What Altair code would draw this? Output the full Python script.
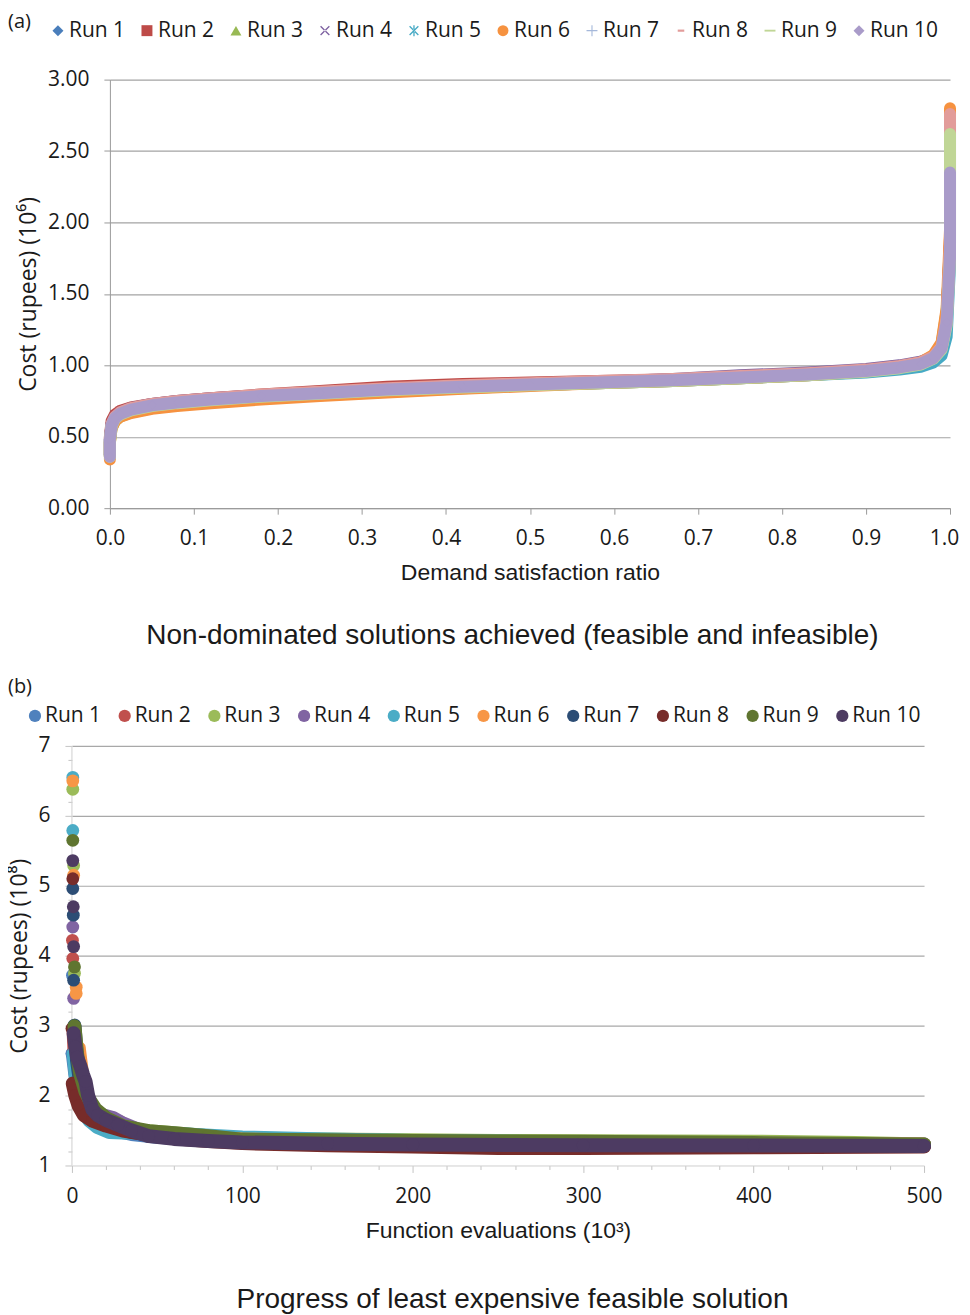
import altair as alt
import pandas as pd

RUNS = ["Run 1", "Run 2", "Run 3", "Run 4", "Run 5", "Run 6", "Run 7", "Run 8", "Run 9", "Run 10"]

# ---------------- panel (a): non-dominated fronts ----------------
A_COLORS = ["#4A7EBB", "#BE4B48", "#98B954", "#7D60A0", "#46AAC5",
            "#F69240", "#A5B8DA", "#E29C9A", "#C0D696", "#A99BC9"]
X_PATH = "M-0.885,-0.715L0.715,0.885L0.885,0.715L-0.715,-0.885Z M0.885,-0.715L-0.715,0.885L-0.885,0.715L0.715,-0.885Z"
A_SHAPES = ["diamond", "square", "triangle-up", X_PATH,
            X_PATH + " M-0.12,-1L0.12,-1L0.12,1L-0.12,1Z",
            "circle", "M-0.1,-1L0.1,-1L0.1,1L-0.1,1Z M-1,-0.1L1,-0.1L1,0.1L-1,0.1Z",
            "M-0.6,-0.2L0.6,-0.2L0.6,0.2L-0.6,0.2Z",
            "M-1,-0.17L1,-0.17L1,0.17L-1,0.17Z", "diamond"]

A_X = [0.0, 0.0, 0.002, 0.006, 0.012, 0.025, 0.05, 0.08, 0.12, 0.18, 0.25, 0.33, 0.42,
       0.5, 0.58, 0.67, 0.75, 0.83, 0.9, 0.94, 0.965, 0.98, 0.99, 0.996, 1.0, 1.0]
A_Y = [
    [0.37, 0.48, 0.59, 0.64, 0.67, 0.70, 0.725, 0.745, 0.765, 0.79, 0.81, 0.835, 0.855, 0.87, 0.885, 0.90, 0.92, 0.94, 0.965, 0.99, 1.02, 1.06, 1.14, 1.34, 1.85, 2.72],
    [0.37, 0.50, 0.61, 0.655, 0.68, 0.705, 0.73, 0.75, 0.77, 0.795, 0.82, 0.85, 0.87, 0.88, 0.89, 0.90, 0.915, 0.935, 0.96, 0.985, 1.01, 1.05, 1.12, 1.32, 1.90, 2.78],
    [0.36, 0.46, 0.56, 0.61, 0.64, 0.67, 0.70, 0.72, 0.745, 0.77, 0.79, 0.815, 0.84, 0.86, 0.875, 0.89, 0.91, 0.93, 0.955, 0.98, 1.01, 1.06, 1.15, 1.38, 1.80, 2.58],
    [0.37, 0.49, 0.59, 0.64, 0.67, 0.70, 0.73, 0.75, 0.77, 0.79, 0.81, 0.835, 0.855, 0.87, 0.885, 0.905, 0.93, 0.95, 0.975, 1.00, 1.025, 1.06, 1.13, 1.32, 1.85, 2.70],
    [0.37, 0.48, 0.57, 0.62, 0.655, 0.685, 0.715, 0.735, 0.755, 0.78, 0.80, 0.825, 0.845, 0.86, 0.875, 0.89, 0.91, 0.93, 0.95, 0.97, 0.99, 1.02, 1.07, 1.20, 1.70, 2.66],
    [0.34, 0.46, 0.56, 0.61, 0.64, 0.665, 0.695, 0.715, 0.735, 0.76, 0.785, 0.81, 0.835, 0.855, 0.875, 0.89, 0.91, 0.93, 0.96, 0.99, 1.02, 1.07, 1.16, 1.40, 1.95, 2.80],
    [0.36, 0.48, 0.58, 0.63, 0.66, 0.69, 0.72, 0.74, 0.76, 0.785, 0.805, 0.83, 0.85, 0.865, 0.88, 0.895, 0.915, 0.935, 0.96, 0.985, 1.01, 1.05, 1.12, 1.30, 1.80, 2.68],
    [0.37, 0.49, 0.59, 0.64, 0.67, 0.70, 0.73, 0.75, 0.77, 0.795, 0.815, 0.84, 0.86, 0.875, 0.89, 0.905, 0.925, 0.945, 0.97, 0.995, 1.02, 1.06, 1.13, 1.33, 1.85, 2.76],
    [0.36, 0.47, 0.575, 0.625, 0.655, 0.685, 0.715, 0.735, 0.755, 0.78, 0.80, 0.825, 0.845, 0.86, 0.875, 0.89, 0.91, 0.93, 0.955, 0.98, 1.005, 1.045, 1.11, 1.28, 1.75, 2.62],
    [0.36, 0.48, 0.58, 0.63, 0.66, 0.69, 0.72, 0.74, 0.76, 0.785, 0.805, 0.83, 0.85, 0.865, 0.88, 0.895, 0.915, 0.935, 0.96, 0.985, 1.01, 1.05, 1.12, 1.30, 1.75, 2.35],
]
A_XTICKS = [0.0, 0.1, 0.2, 0.3, 0.4, 0.5, 0.6, 0.7, 0.8, 0.9, 1.0]
A_YTICKS = [0.0, 0.5, 1.0, 1.5, 2.0, 2.5, 3.0]

# ---------------- panel (b): progress of cheapest feasible ----------------
B_COLORS = ["#4F81BD", "#C0504D", "#9BBB59", "#8064A2", "#4BACC6",
            "#F79646", "#2C4D75", "#772C2A", "#5F7530", "#4D3B62"]
B_EARLY_X = [[0.3, 0.0], [0.3, 0.5], [0.5, 1.0, 1.5], [0.5, 1.0], [0.5, 0.5],
             [0.5, 1.0, 2.5, 2.5], [0.5, 0.8, 1.0], [0.5, 0.0], [0.5, 1.5], [0.5, 0.8, 1.0]]
B_EARLY_Y = [[3.72, 2.60], [4.22, 3.96], [6.38, 5.29, 3.75], [4.41, 3.39], [6.55, 5.79],
             [6.50, 5.15, 3.55, 3.46], [4.96, 4.58, 3.65], [5.10, 2.96], [5.65, 3.84], [5.36, 4.70, 4.13]]
B_TRACE_X = [
    [0.5, 2, 4, 6, 9, 13, 18, 25, 35, 50, 70, 100, 150, 200, 300, 400, 500],
    [1, 2, 4, 7, 12, 20, 28, 35, 50, 70, 100, 150, 200, 300, 400, 500],
    [3, 5, 8, 12, 20, 30, 45, 60, 80, 100, 150, 200, 250, 300, 400, 460, 500],
    [2, 4, 7, 12, 18, 24, 30, 40, 55, 75, 100, 150, 200, 300, 400, 500],
    [1, 3, 6, 10, 15, 22, 30, 40, 55, 70, 100, 150, 200, 300, 400, 500],
    [4, 6, 8, 12, 18, 25, 35, 50, 70, 100, 150, 200, 300, 400, 500],
    [1.5, 3, 5, 8, 12, 18, 25, 35, 50, 70, 100, 150, 200, 300, 400, 500],
    [0.5, 2, 4, 7, 12, 20, 30, 45, 60, 80, 100, 150, 200, 250, 300, 400, 500],
    [1.5, 3, 5, 8, 10, 14, 20, 30, 45, 60, 80, 100, 150, 200, 300, 400, 500],
    [1, 2, 3, 5, 6.5, 8, 9.5, 12, 15, 20, 27, 35, 45, 60, 80, 100, 150, 200, 300, 400, 500],
]
B_TRACE_Y = [
    [2.60, 2.30, 2.05, 1.85, 1.72, 1.62, 1.55, 1.50, 1.45, 1.41, 1.38, 1.36, 1.34, 1.33, 1.32, 1.31, 1.30],
    [2.90, 2.40, 2.00, 1.80, 1.70, 1.64, 1.62, 1.52, 1.45, 1.40, 1.37, 1.35, 1.33, 1.31, 1.30, 1.29],
    [2.45, 2.15, 1.90, 1.72, 1.58, 1.52, 1.49, 1.46, 1.42, 1.38, 1.37, 1.36, 1.35, 1.345, 1.34, 1.32, 1.30],
    [2.60, 2.20, 1.95, 1.80, 1.72, 1.68, 1.60, 1.50, 1.44, 1.40, 1.37, 1.35, 1.34, 1.32, 1.31, 1.30],
    [2.60, 2.10, 1.80, 1.65, 1.55, 1.48, 1.47, 1.47, 1.46, 1.44, 1.40, 1.37, 1.35, 1.33, 1.31, 1.30],
    [2.68, 2.30, 2.00, 1.80, 1.66, 1.58, 1.50, 1.44, 1.40, 1.37, 1.35, 1.34, 1.32, 1.31, 1.30],
    [3.00, 2.50, 2.15, 1.90, 1.75, 1.62, 1.55, 1.48, 1.42, 1.38, 1.35, 1.33, 1.32, 1.31, 1.30, 1.29],
    [2.17, 2.00, 1.85, 1.72, 1.64, 1.57, 1.50, 1.44, 1.39, 1.35, 1.32, 1.29, 1.27, 1.25, 1.25, 1.26, 1.27],
    [2.99, 2.60, 2.30, 2.05, 1.95, 1.80, 1.68, 1.56, 1.49, 1.46, 1.42, 1.37, 1.36, 1.35, 1.34, 1.32, 1.30],
    [2.89, 2.70, 2.55, 2.42, 2.30, 2.20, 2.00, 1.80, 1.72, 1.65, 1.58, 1.50, 1.42, 1.38, 1.35, 1.33, 1.31, 1.30, 1.29, 1.285, 1.28],
]
B_XTICKS = list(range(0, 501, 20))
B_YTICKS = [1.0, 1.2, 1.4, 1.6, 1.8, 2.0, 2.2, 2.4, 2.6, 2.8, 3.0, 3.2, 3.4, 3.6, 3.8, 4.0,
            4.2, 4.4, 4.6, 4.8, 5.0, 5.2, 5.4, 5.6, 5.8, 6.0, 6.2, 6.4, 6.6, 6.8, 7.0]

PANEL_TAGS = ["(a)", "(b)"]
X_TITLES = ["Demand satisfaction ratio", "Function evaluations (10³)"]
Y_TITLES = ["Cost (rupees) (10⁶)", "Cost (rupees) (10⁸)"]
CAPTIONS = ["Non-dominated solutions achieved (feasible and infeasible)",
            "Progress of least expensive feasible solution"]

TXT = "#1a1a1a"
UI_FONT = "Open Sans"
TITLE_FONT = "Liberation Sans"
NO_FRAME = alt.ViewBackground(stroke="transparent", strokeWidth=0)

# ---------------- tables ----------------
rows_a = []
for r, ys in enumerate(A_Y):
    for k, (x, y) in enumerate(zip(A_X, ys)):
        rows_a.append({"run": RUNS[r], "k": k, "x": x, "y": y})
df_a = pd.DataFrame(rows_a)

rows_b = []
for r in range(10):
    for k, (x, y) in enumerate(zip(B_EARLY_X[r], B_EARLY_Y[r])):
        rows_b.append({"run": RUNS[r], "k": k, "x": x, "y": y, "kind": "early"})
    for k, (x, y) in enumerate(zip(B_TRACE_X[r], B_TRACE_Y[r])):
        rows_b.append({"run": RUNS[r], "k": k, "x": x, "y": y, "kind": "trace"})
df_b = pd.DataFrame(rows_b)

# both panels share the same group origin; panel (b) is shifted left by B_SHIFT
W_A, H_A = 841, 429
B_SHIFT = 38
W_B, H_B = 853 - B_SHIFT, 420


def legend_layers(colors, shapes, x0, step, y, sym_size, gap):
    """Key of the runs, laid out in one row above the plot."""
    out = []
    for i, run in enumerate(RUNS):
        src = alt.Chart(pd.DataFrame({"run": [run]}))
        out.append(src.mark_point(filled=True, opacity=1, size=sym_size, color=colors[i],
                                  shape=shapes[i], strokeWidth=0)
                   .encode(x=alt.value(x0 + i * step), y=alt.value(y)))
        out.append(src.mark_text(font=UI_FONT, fontSize=21, color=TXT, align="left",
                                 baseline="middle")
                   .encode(text="run:N", x=alt.value(x0 + i * step + gap), y=alt.value(y)))
    return out


# ---------------- panel (a) ----------------
xa = alt.X("x:Q", scale=alt.Scale(domain=[0, 1], nice=False, zero=False),
           axis=alt.Axis(values=A_XTICKS, format=".1f", title=X_TITLES[0], grid=False,
                         domainColor="#9a9a9a", tickColor="#9a9a9a", tickSize=6,
                         labelFont=UI_FONT, labelFontSize=21, labelColor=TXT, labelPadding=13,
                         labelFlush=False,
                         labelOffset={"condition": {"test": "datum.value >= 0.99", "value": -6}, "value": 0},
                         titleFont=TITLE_FONT, titleFontSize=23, titleFontWeight="normal",
                         titleColor=TXT, titlePadding=13))
ya = alt.Y("y:Q", scale=alt.Scale(domain=[0, 3], nice=False),
           axis=alt.Axis(values=A_YTICKS, format=".2f", title=Y_TITLES[0], grid=True,
                         gridColor="#a3a3a3", gridWidth=1.2, domain=True,
                         domainColor="#9a9a9a", tickColor="#9a9a9a", tickSize=6,
                         labelFont=UI_FONT, labelFontSize=21, labelColor=TXT, labelPadding=15,
                         labelFlush=False,
                         titleFont=UI_FONT, titleFontSize=23, titleFontWeight="normal",
                         titleColor=TXT, titlePadding=7))
col_a = alt.Color("run:N", scale=alt.Scale(domain=RUNS, range=A_COLORS), legend=None)
shp_a = alt.Shape("run:N", scale=alt.Scale(domain=RUNS, range=A_SHAPES), legend=None)

layers_a = []
for i, r in enumerate(RUNS):
    base = alt.Chart(df_a).transform_filter(alt.datum.run == r)
    layers_a.append(base.mark_line(strokeWidth=12, strokeCap="round", strokeJoin="round",
                                   color=A_COLORS[i], clip=False)
                    .encode(x=xa, y=ya, order="k:Q"))
    layers_a.append(base.mark_point(filled=True, size=80, opacity=1, clip=False)
                    .encode(x=xa, y=ya, color=col_a, shape=shp_a))

tag_a = alt.Chart(pd.DataFrame({"t": [PANEL_TAGS[0]]})).mark_text(
    font=UI_FONT, fontSize=20, color=TXT, align="left", baseline="top"
).encode(text="t:N", x=alt.value(-102), y=alt.value(-68))
cap_a = alt.Chart(pd.DataFrame({"t": [CAPTIONS[0]]})).mark_text(
    font=TITLE_FONT, fontSize=28, color=TXT, align="center", baseline="middle"
).encode(text="t:N", x=alt.value(403), y=alt.value(557))
key_a = legend_layers(A_COLORS, A_SHAPES, -52, 89.1, -49, 120, 11)

panel_a = alt.layer(*layers_a, *key_a, tag_a, cap_a).properties(
    width=W_A, height=H_A, view=NO_FRAME)

# ---------------- panel (b) ----------------
xb = alt.X("x:Q", scale=alt.Scale(domain=[0, 500], nice=False, range=[-B_SHIFT, W_B]),
           axis=alt.Axis(values=B_XTICKS, title=X_TITLES[1], grid=False,
                         labelExpr="datum.value % 100 === 0 ? datum.label : ''",
                         domainColor="#cfcfcf", tickColor="#c4c4c4",
                         tickSize={"condition": {"test": "datum.value % 100 === 0", "value": 7}, "value": 4},
                         labelFont=UI_FONT, labelFontSize=21, labelColor=TXT, labelPadding=13,
                         labelFlush=False,
                         titleFont=TITLE_FONT, titleFontSize=23, titleFontWeight="normal",
                         titleColor=TXT, titlePadding=13, titleX=(W_B - B_SHIFT) / 2))
yb = alt.Y("y:Q", scale=alt.Scale(domain=[1, 7], nice=False, zero=False),
           axis=alt.Axis(values=B_YTICKS, title=Y_TITLES[1], grid=True, offset=B_SHIFT,
                         domain=False,
                         labelExpr="abs(datum.value - round(datum.value)) < 0.001 ? format(datum.value, 'd') : ''",
                         gridColor="#a8a8a8", gridWidth=1.2,
                         gridOpacity={"condition": {"test": "abs(datum.value - round(datum.value)) < 0.001 && datum.value > 1.5", "value": 1}, "value": 0},
                         tickColor="#c4c4c4",
                         tickSize={"condition": {"test": "abs(datum.value - round(datum.value)) < 0.001", "value": 7}, "value": 4},
                         labelFont=UI_FONT, labelFontSize=21, labelColor=TXT, labelPadding=15,
                         labelFlush=False,
                         titleFont=UI_FONT, titleFontSize=23, titleFontWeight="normal",
                         titleColor=TXT, titlePadding=6))
col_b = alt.Color("run:N", scale=alt.Scale(domain=RUNS, range=B_COLORS), legend=None)

# y axis line of panel (b), drawn at the shifted axis position
axis_line_b = alt.Chart(pd.DataFrame({"v": [0]})).mark_rule(color="#cfcfcf", strokeWidth=1).encode(
    x=alt.value(-B_SHIFT), y=alt.value(0), y2=alt.value(H_B))

layers_b = [axis_line_b]
for i, r in enumerate(RUNS):
    base = alt.Chart(df_b).transform_filter(alt.datum.run == r)
    layers_b.append(base.transform_filter(alt.datum.kind == "trace")
                    .mark_line(strokeWidth=14, strokeCap="round", strokeJoin="round",
                               color=B_COLORS[i], clip=False)
                    .encode(x=xb, y=yb, order="k:Q"))
    layers_b.append(base.mark_circle(size=165, opacity=1, clip=False)
                    .encode(x=xb, y=yb, color=col_b))

tag_b = alt.Chart(pd.DataFrame({"t": [PANEL_TAGS[1]]})).mark_text(
    font=UI_FONT, fontSize=20, color=TXT, align="left", baseline="top"
).encode(text="t:N", x=alt.value(-102), y=alt.value(-69))
cap_b = alt.Chart(pd.DataFrame({"t": [CAPTIONS[1]]})).mark_text(
    font=TITLE_FONT, fontSize=28, color=TXT, align="center", baseline="middle"
).encode(text="t:N", x=alt.value(403), y=alt.value(555))
key_b = legend_layers(B_COLORS, ["circle"] * 10, -75, 89.8, -30, 150, 10)

panel_b = alt.layer(*layers_b, *key_b, tag_b, cap_b).properties(
    width=W_B, height=H_B, view=NO_FRAME)

chart = (
    alt.vconcat(panel_a, panel_b, spacing=27,
                padding={"left": 0, "top": 3, "right": 0, "bottom": 0})
    .resolve_scale(x="independent", y="independent", color="independent",
                   shape="independent")
    .configure_view(stroke="transparent", strokeWidth=0)
    .configure_axis(domainColor="transparent", tickColor="transparent", gridColor="transparent")
    .configure_axisY(domain=False)
    .configure(background="white", style={"cell": {"stroke": "transparent", "strokeWidth": 0}})
)

chart.save("out.html", embed_options={"renderer": "svg", "actions": False})
